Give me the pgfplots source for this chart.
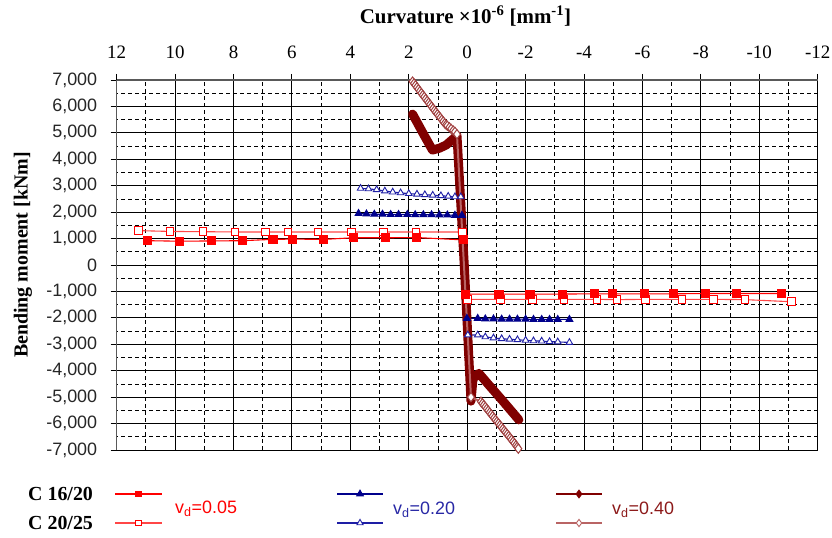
\documentclass[border=0pt]{standalone}
\usepackage{fontspec}
\setmainfont{Liberation Serif}
\setsansfont{Liberation Sans}
\usepackage{pgfplots}
\pgfplotsset{compat=1.18}
\definecolor{cRed}{RGB}{255,0,0}
\definecolor{cRedL}{RGB}{255,70,70}
\definecolor{cNavy}{RGB}{0,0,140}
\definecolor{cNavyL}{RGB}{30,30,165}
\definecolor{cMaroon}{RGB}{128,0,0}
\definecolor{cRosy}{RGB}{185,100,100}
\definecolor{tBlue}{RGB}{40,40,165}
\definecolor{tMaroon}{RGB}{140,25,25}
\begin{document}
\begin{tikzpicture}
\useasboundingbox (0,0) rectangle (832bp,538bp);
\begin{axis}[
  at={(116.7bp,88bp)}, anchor=south west,
  scale only axis, width=701bp, height=370bp,
  xmin=-12, xmax=12, ymin=-7000, ymax=7000,
  x dir=reverse,
  axis x line*=top, axis y line*=left,
  xtick={-12,-10,...,12}, minor xtick={-11,-9,...,11},
  ytick={-7000,-6000,...,7000}, minor ytick={-6500,-5500,...,6500},
  scaled x ticks=false, scaled y ticks=false,
  grid=both,
  major grid style={black, line width=0.9bp},
  minor grid style={black, line width=0.8bp, dash pattern=on 4bp off 3bp},
  axis line style={black!65, line width=1.3bp},
  major tick style={black, line width=0.9bp},
  major tick length=12bp, minor tick length=0bp,
  tick align=center,
  /pgf/number format/assume math mode=true,
  xticklabel style={font=\fontsize{19}{22}\selectfont\rmfamily, yshift=12bp},
  yticklabel style={font=\fontsize{18}{21}\selectfont\sffamily, text=black!85, xshift=-10bp,
     /pgf/number format/1000 sep={,}},
  clip=true,
]
% C 20/25, nu_d = 0.05 (open squares)
\addplot[cRedL, line width=1.1bp, mark=square*, mark size=3.8bp, mark options={solid, fill=white, draw=cRed, line width=1bp}]
coordinates {(-11.1,-1390) (-9.51,-1310) (-8.43,-1300) (-7.35,-1300) (-6.1,-1300) (-5.13,-1310) (-4.45,-1300)
 (-3.31,-1300) (-2.23,-1300) (-1.15,-1300) (-0.01,-1300) (0.16,1250) (1.75,1250) (2.86,1250) (3.97,1250)
 (5.11,1250) (6.13,1250) (6.9,1250) (7.95,1250) (9.05,1260) (10.17,1270) (11.25,1300)};
% C 16/20, nu_d = 0.05 (filled squares)
\addplot[cRed, line width=1.1bp, mark=square*, mark size=4bp, mark options={solid, fill=cRed}]
coordinates {(-10.76,-1080) (-9.23,-1080) (-8.15,-1080) (-7.06,-1090) (-6.06,-1090) (-4.99,-1090) (-4.37,-1090)
 (-3.25,-1100) (-2.15,-1100) (-1.09,-1100) (0.05,-1100) (0.14,950) (1.75,1040) (2.81,1030) (3.89,1030)
 (4.91,970) (5.98,980) (6.65,970) (7.69,920) (8.75,910) (9.85,900) (10.95,920)};
% C 20/25, nu_d = 0.20 (open triangles)
\addplot[cNavyL, line width=1.1bp, mark=triangle*, mark size=3.8bp, mark options={solid, fill=white, draw=cNavyL, line width=0.9bp}]
coordinates {(-3.5,-2930) (-3.1,-2910) (-2.82,-2900) (-2.55,-2880) (-2.27,-2870) (-2.0,-2850) (-1.72,-2830)
 (-1.45,-2810) (-1.18,-2790) (-0.9,-2760) (-0.62,-2720) (-0.36,-2650) (-0.02,-2650) (0.22,2580)
 (0.42,2580) (0.65,2600) (0.9,2620) (1.18,2640) (1.45,2660) (1.72,2680) (2.0,2700) (2.28,2730)
 (2.55,2760) (2.82,2800) (3.1,2850) (3.38,2880) (3.65,2900)};
% C 16/20, nu_d = 0.20 (filled triangles)
\addplot[cNavy, line width=1.1bp, mark=triangle*, mark size=3.8bp, mark options={solid, fill=cNavy}]
coordinates {(-3.5,-2060) (-3.1,-2060) (-2.82,-2060) (-2.55,-2060) (-2.27,-2060) (-2.0,-2050) (-1.72,-2050)
 (-1.45,-2050) (-1.18,-2050) (-0.9,-2040) (-0.62,-2040) (-0.36,-2020) (0.01,-2020) (0.18,1880)
 (0.42,1880) (0.68,1890) (0.95,1890) (1.22,1900) (1.5,1900) (1.78,1900) (2.05,1910) (2.35,1910)
 (2.62,1910) (2.9,1920) (3.18,1920) (3.45,1930) (3.72,1950)};
% C 16/20, nu_d = 0.40 (filled diamonds, thick)
\addplot[cMaroon, line width=9bp, line join=round, line cap=round]
coordinates {(1.87,5710) (1.52,5000) (1.19,4350) (0.95,4420) (0.72,4540) (0.5,4750) (0.35,4900)
 (0.1,0) (-0.13,-5150) (-0.2,-4300) (-0.4,-4100) (-0.75,-4550) (-1.2,-5120) (-1.77,-5860)};
% C 20/25, nu_d = 0.40 (open diamonds)
\addplot[cRosy, line width=2bp, mark=diamond*, mark size=4.6bp, mark options={solid, fill=white, draw=cMaroon!75!white, line width=1bp}]
coordinates {(1.87,6940) (1.82,6870) (1.77,6800) (1.72,6725) (1.67,6650) (1.62,6575) (1.57,6500) (1.52,6430) (1.47,6360)
 (1.42,6285) (1.37,6210) (1.32,6140) (1.27,6070) (1.22,5995) (1.17,5920) (1.12,5850)
 (1.07,5780) (1.02,5710) (0.97,5640) (0.92,5570) (0.87,5500) (0.82,5430) (0.77,5360) (0.72,5310) (0.68,5270)
 (0.61,5210) (0.55,5150) (0.48,5090) (0.42,5040)
 (0.35,4950) (-0.13,-5000)
 (-0.47,-5170) (-0.52,-5235) (-0.57,-5300) (-0.62,-5370) (-0.67,-5440) (-0.72,-5510) (-0.77,-5580) (-0.82,-5650)
 (-0.87,-5720) (-0.92,-5790) (-0.97,-5860) (-1.02,-5925) (-1.07,-5990) (-1.12,-6060)
 (-1.17,-6130) (-1.22,-6200) (-1.27,-6270) (-1.32,-6335) (-1.37,-6400) (-1.42,-6470) (-1.47,-6540) (-1.52,-6610)
 (-1.57,-6680) (-1.62,-6750) (-1.67,-6820) (-1.71,-6885) (-1.75,-6950)};
\end{axis}
% legend samples, drawn through a hidden axis in picture units (bp)
\begin{axis}[
  at={(0bp,0bp)}, anchor=south west, scale only axis, width=832bp, height=538bp,
  xmin=0, xmax=832, ymin=0, ymax=538, hide axis, clip=false,
]
\addplot[cRed, line width=1.2bp, mark=square*, mark size=2.8bp, mark repeat=2, mark phase=2, mark options={solid, fill=cRed}]
 coordinates {(115,44) (138.5,44) (162,44)};
\addplot[cNavy, line width=1.2bp, mark=triangle*, mark size=3.6bp, mark repeat=2, mark phase=2, mark options={solid, fill=cNavy}]
 coordinates {(337,44) (360,44) (383,44)};
\addplot[cMaroon, line width=1.2bp, mark=diamond*, mark size=3.6bp, mark repeat=2, mark phase=2, mark options={solid, fill=cMaroon}]
 coordinates {(556,44) (579,44) (602,44)};
\addplot[cRedL, line width=1.2bp, mark=square*, mark size=2.8bp, mark repeat=2, mark phase=2, mark options={solid, fill=white, draw=cRed, line width=0.9bp}]
 coordinates {(115,15) (138.5,15) (162,15)};
\addplot[cNavyL, line width=1.2bp, mark=triangle*, mark size=3.6bp, mark repeat=2, mark phase=2, mark options={solid, fill=white, draw=cNavyL, line width=0.9bp}]
 coordinates {(337,15) (360,15) (383,15)};
\addplot[cRosy, line width=1.2bp, mark=diamond*, mark size=3.6bp, mark repeat=2, mark phase=2, mark options={solid, fill=white, draw=cRosy, line width=0.9bp}]
 coordinates {(556,15) (579,15) (602,15)};
\end{axis}
% titles
\node[font=\fontsize{21}{24}\selectfont\bfseries] at (465.5bp,522bp) {Curvature ×10\textsuperscript{-6} [mm\textsuperscript{-1}]};
\node[font=\fontsize{20}{23}\selectfont\bfseries, rotate=90] at (23bp,283bp) {Bending moment [kNm]};
% legend labels
\node[font=\fontsize{20}{22}\selectfont\bfseries, anchor=west, inner sep=0pt] at (28bp,44bp) {C 16/20};
\node[font=\fontsize{20}{22}\selectfont\bfseries, anchor=west, inner sep=0pt] at (28bp,15bp) {C 20/25};
\node[font=\fontsize{18}{21}\selectfont\sffamily, text=cRed, anchor=west, inner sep=0pt] at (175bp,29bp) {v\textsubscript{d}=0.05};
\node[font=\fontsize{18}{21}\selectfont\sffamily, text=tBlue, anchor=west, inner sep=0pt] at (393bp,28bp) {v\textsubscript{d}=0.20};
\node[font=\fontsize{18}{21}\selectfont\sffamily, text=tMaroon, anchor=west, inner sep=0pt] at (612bp,28bp) {v\textsubscript{d}=0.40};
\end{tikzpicture}
\end{document}
